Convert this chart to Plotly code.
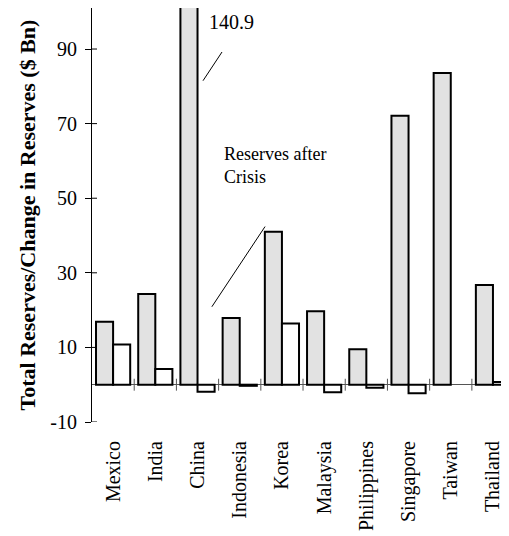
import plotly.graph_objects as go

countries = ["Mexico", "India", "China", "Indonesia", "Korea", "Malaysia",
             "Philippines", "Singapore", "Taiwan", "Thailand"]
total_reserves = [16.9, 24.3, 140.9, 17.9, 41.0, 19.7, 9.5, 72.1, 83.6, 26.7]
change_reserves = [10.8, 4.2, -1.9, -0.3, 16.4, -2.0, -0.8, -2.3, None, 0.7]
y_ticks = [-10, 10, 30, 50, 70, 90]
y_tick_text = ["-10", "10", "30", "50", "70", "90"]

FONT = "Liberation Serif"
idx = list(range(len(countries)))

fig = go.Figure()
fig.add_trace(go.Bar(x=idx, y=total_reserves, name="Total Reserves",
                     marker=dict(color="#e2e2e2", line=dict(color="black", width=2))))
fig.add_trace(go.Bar(x=idx, y=change_reserves, name="Change in Reserves",
                     marker=dict(color="white", line=dict(color="black", width=2))))

shapes = []
for i in range(len(countries)):
    shapes.append(dict(type="line", xref="x", yref="y", x0=i + 0.5, x1=i + 0.5,
                       y0=-1.6, y1=1.6, line=dict(color="#555555", width=1)))
# y-axis tick marks crossing the axis (inside part)
for t in y_ticks:
    shapes.append(dict(type="line", xref="paper", yref="y", x0=0, x1=0.012,
                       y0=t, y1=t, line=dict(color="black", width=1)))
# annotation leader lines
shapes.append(dict(type="line", xref="x", yref="y", x0=2.13, y0=81.5, x1=2.58, y1=89.2,
                   line=dict(color="black", width=1)))
shapes.append(dict(type="line", xref="x", yref="y", x0=2.34, y0=20.9, x1=3.6, y1=42.4,
                   line=dict(color="black", width=1)))

# page body has an 8px margin, so the figure is offset by 8px
fig.update_layout(
    width=501, height=528,
    margin=dict(l=84, r=0, t=0, b=114, autoexpand=False),
    plot_bgcolor="white", paper_bgcolor="white",
    barmode="group", bargap=0.19, bargroupgap=0,
    showlegend=False,
    font=dict(family=FONT, color="black", size=20),
    shapes=shapes,
    annotations=[
        dict(x=2.22, y=97.3, xref="x", yref="y", text="140.9", showarrow=False,
             xanchor="left", yanchor="middle", font=dict(size=20)),
        dict(x=2.58, y=58.9, xref="x", yref="y", text="Reserves after<br>Crisis",
             showarrow=False, xanchor="left", yanchor="middle", align="left",
             font=dict(size=18)),
    ],
)
fig.update_xaxes(
    range=[-0.5, 9.38], tickvals=idx, ticktext=countries, tickangle=-90,
    showline=False, showgrid=False, zeroline=False, ticks="",
    ticklabelstandoff=14, tickfont=dict(size=20), automargin=False,
)
fig.update_yaxes(
    range=[-10, 101], tickvals=y_ticks, ticktext=y_tick_text, showgrid=False,
    showline=True, linecolor="black", linewidth=1,
    ticks="outside", ticklen=6, tickcolor="black",
    zeroline=True, zerolinecolor="#555555", zerolinewidth=1,
    ticklabelstandoff=4, tickfont=dict(size=20), automargin=False,
    title=dict(text="<b>Total Reserves/Change in Reserves ($ Bn)</b>",
               font=dict(size=22), standoff=8),
)
fig.write_html("out.html")
